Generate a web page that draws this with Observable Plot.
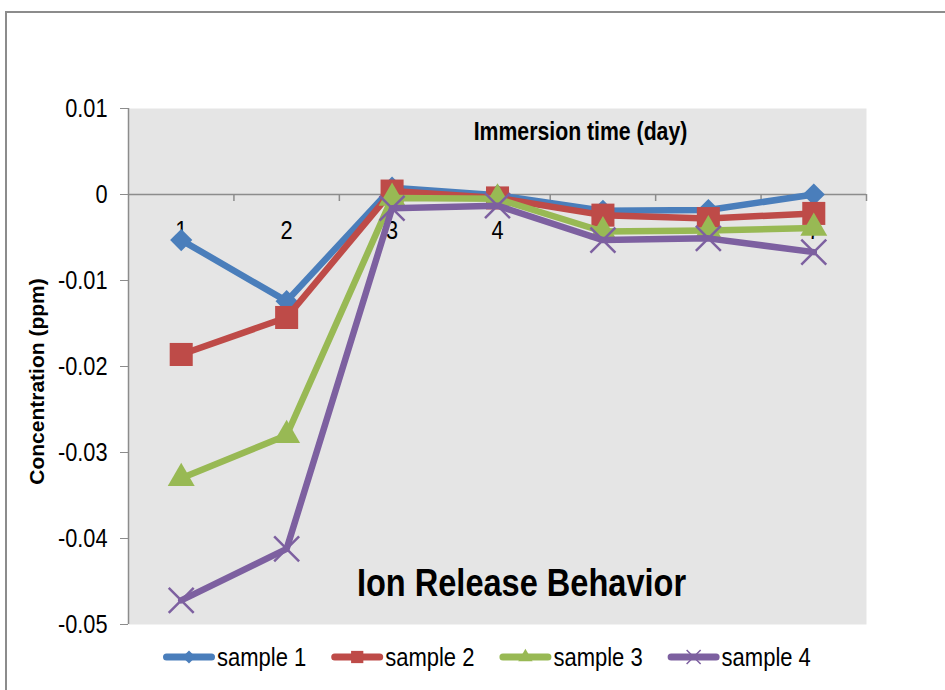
<!DOCTYPE html>
<html><head><meta charset="utf-8">
<script src="https://cdn.jsdelivr.net/npm/d3@7"></script>
<script src="https://cdn.jsdelivr.net/npm/@observablehq/plot@0.6"></script>
<style>
body{margin:0;background:#fff;}
#wrap{position:relative;width:945px;height:690px;overflow:hidden;font-family:"Liberation Sans",sans-serif;}
#border{position:absolute;left:5px;top:11px;right:-5px;bottom:-5px;border-top:2px solid #8c8c8c;border-left:2px solid #8c8c8c;}
#chart{position:absolute;left:0;top:0;}
#legend{position:absolute;left:0;top:644px;}
</style></head>
<body><div id="wrap"><div id="border"></div><div id="chart"></div><svg id="legend" width="945" height="30"></svg></div>
<script>
// ---- data ----
const days = [1, 2, 3, 4, 5, 6, 7];
const sample1 = [-0.0053, -0.0124, 0.0008, -0.0001, -0.0019, -0.0018, 0.0000];
const sample2 = [-0.0186, -0.0143, 0.0004, -0.0004, -0.0024, -0.0028, -0.0022];
const sample3 = [-0.0330, -0.0280, -0.0004, -0.0005, -0.0043, -0.0042, -0.0039];
const sample4 = [-0.0472, -0.0412, -0.0016, -0.0013, -0.0053, -0.0051, -0.0067];
const seriesNames = ["sample 1", "sample 2", "sample 3", "sample 4"];
const yTicks = [0.01, 0, -0.01, -0.02, -0.03, -0.04, -0.05];
const xTitle = "Immersion time (day)";
const yTitle = "Concentration (ppm)";
const chartTitle = "Ion Release Behavior";

// ---- styles ----
const seriesColors = ["#4a7ebb", "#be4b48", "#98b954", "#7d60a0"];
const seriesSymbols = ["diamond2", "square", "triangle", "times"];
const symbolR = [10, 13, 10, 11.4];
const legendSym = [d3.symbolDiamond2, d3.symbolSquare, d3.symbolTriangle, d3.symbolTimes];
const legendSize = [110, 150, 90, 130];
const FONT = '"Liberation Sans",Arial,sans-serif';
const axisColor = "#8c8c8c";

const W = 945, H = 690, mL = 128, mR = 79, mT = 108, mB = 66;
const pxPerUnit = (H - mT - mB) / (d3.max(yTicks) - d3.min(yTicks));
const tickLen = 7 / pxPerUnit;

const allSeries = [sample1, sample2, sample3, sample4];
const rows = [];
allSeries.forEach((arr, s) => arr.forEach((v, i) => rows.push({series: seriesNames[s], day: days[i], value: v})));
const bounds = d3.range(days.length + 1).map(i => days[0] - 0.5 + i);

const seriesMarks = [];
seriesNames.forEach((name, s) => {
  const d = rows.filter(r => r.series === name);
  seriesMarks.push(Plot.line(d, {x: "day", y: "value", stroke: seriesColors[s], strokeWidth: 6.5, strokeLinejoin: "round"}));
  const isStroke = seriesSymbols[s] === "times";
  seriesMarks.push(Plot.dot(d, {x: "day", y: "value", symbol: () => seriesSymbols[s], r: symbolR[s],
    fill: isStroke ? "none" : seriesColors[s], stroke: isStroke ? seriesColors[s] : "none", strokeWidth: isStroke ? 2.5 : 0}));
});

const chart = Plot.plot({
  width: W, height: H,
  marginLeft: mL, marginRight: mR, marginTop: mT, marginBottom: mB,
  style: {fontFamily: FONT, fontSize: "25px", color: "#000", background: "transparent", overflow: "visible"},
  x: {type: "linear", domain: [bounds[0], bounds[bounds.length - 1]], axis: null},
  y: {domain: [d3.min(yTicks), d3.max(yTicks)], axis: null},
  symbol: {type: "identity"},
  marks: [
    Plot.frame({fill: "#e5e5e5", stroke: "none"}),
    Plot.axisY(yTicks, {tickSize: 8, tickPadding: 13, tickFormat: d => d === 0 ? "0" : d.toFixed(2), fontSize: 25, stroke: axisColor, label: null}),
    Plot.ruleX([bounds[0]], {stroke: axisColor, strokeWidth: 1.5}),
    Plot.ruleY([0], {stroke: axisColor, strokeWidth: 1.5}),
    Plot.ruleX(bounds.slice(1), {x: d => d, y1: () => 0, y2: () => -tickLen, stroke: axisColor, strokeWidth: 1.5}),
    Plot.text(days, {x: d => d, y: () => 0, text: d => String(d), dy: 36, fontSize: 25, fill: "#000"}),
    Plot.text([xTitle], {frameAnchor: "top", text: d => d, textAnchor: "middle", lineAnchor: "middle", dx: 83, dy: 23, fontWeight: "bold", fontSize: 25, fill: "#000"}),
    Plot.text([yTitle], {frameAnchor: "left", text: d => d, textAnchor: "middle", lineAnchor: "middle", dx: -91, dy: 15, rotate: -90, fontWeight: "bold", fontSize: 21, fill: "#000"}),
    Plot.text([chartTitle], {frameAnchor: "bottom", text: d => d, textAnchor: "middle", lineAnchor: "middle", dx: 24, dy: -41, fontWeight: "bold", fontSize: 39, fill: "#000"}),
    ...seriesMarks
  ]
});
document.getElementById("chart").appendChild(chart);

// condense glyphs horizontally (the reference typeface is a narrow one)
function squeeze(el, sx, sy) {
  const t = el.getAttribute("transform") || "";
  el.setAttribute("transform", (t + ` scale(${sx},${sy})`).trim());
}
d3.select(chart).selectAll("text").each(function() {
  const s = this.textContent;
  if (s === yTitle) return;
  else if (s === chartTitle) squeeze(this, 0.835, 1);
  else if (s === xTitle) squeeze(this, 0.85, 1);
  else squeeze(this, 0.87, 1);
});

// ---- legend ----
const legend = d3.select("#legend");
let lx = 163;
const kLegend = 0.88;
seriesNames.forEach((name, s) => {
  const g = legend.append("g").attr("transform", `translate(${lx},0)`);
  g.append("line").attr("x1", 3.5).attr("x2", 48.5).attr("y1", 13).attr("y2", 13)
    .attr("stroke", seriesColors[s]).attr("stroke-width", 7).attr("stroke-linecap", "round");
  const isStroke = seriesSymbols[s] === "times";
  g.append("path").attr("transform", "translate(26,13)")
    .attr("d", d3.symbol(legendSym[s], legendSize[s])())
    .attr("fill", isStroke ? "none" : seriesColors[s])
    .attr("stroke", isStroke ? seriesColors[s] : "none").attr("stroke-width", 1.5);
  const t = g.append("text").attr("transform", `translate(54,13) scale(${kLegend},1)`)
    .attr("dy", "0.35em").attr("font-family", FONT).attr("font-size", 25).attr("fill", "#000").text(name);
  const w = t.node().getComputedTextLength() * kLegend;
  lx += 54 + w + 25;
});
</script>
</body></html>
